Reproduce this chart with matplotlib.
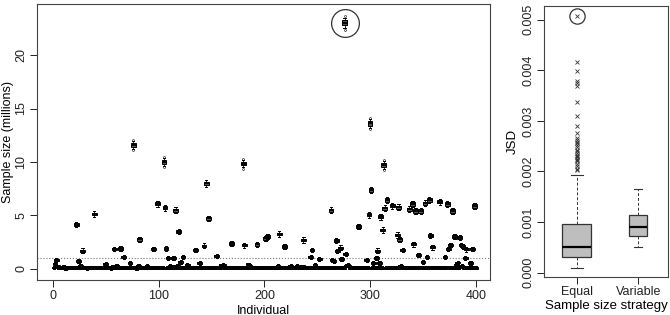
import matplotlib
matplotlib.use("Agg")
import matplotlib.pyplot as plt
import numpy as np

plt.rcParams['font.family'] = ['Liberation Sans', 'DejaVu Sans']

# ---------------- data ----------------
# baseline sample size (millions) for individuals 1..400
base_size = [
 0.12,0.15,0.12,0.25,0.14,0.10,0.11,0.12,0.10,0.18,0.10,0.09,0.12,0.10,0.11,0.15,0.10,0.12,0.10,0.13,
 0.10,0.11,0.12,0.20,0.14,0.30,0.12,0.10,0.11,0.10,0.12,0.09,0.10,0.13,0.10,0.11,0.12,0.10,0.14,0.10,
 0.11,0.10,0.12,0.10,0.10,0.13,0.11,0.10,0.12,0.15,0.10,0.12,0.11,0.10,0.09,0.12,0.25,0.10,0.11,0.30,
 0.20,0.12,0.10,0.22,0.13,0.10,0.12,0.11,0.10,0.14,0.12,0.10,0.11,0.13,0.10,0.12,0.10,0.11,0.09,0.12,
 0.28,0.14,0.10,0.12,0.10,0.11,0.13,0.10,0.30,0.10,0.12,0.11,0.10,0.12,0.10,0.11,0.13,0.10,0.12,0.10,
 0.11,0.10,0.12,0.10,0.11,0.10,0.12,0.11,0.10,0.13,0.30,0.10,0.12,0.11,0.25,0.10,0.12,0.30,0.12,0.10,
 0.11,0.12,0.10,0.13,0.10,0.11,0.10,0.12,0.11,0.10,0.12,0.10,0.11,0.13,0.10,0.12,0.10,0.11,0.10,0.12,
 0.10,0.11,0.12,0.10,0.13,0.10,0.12,0.11,0.10,0.12,0.11,0.10,0.12,0.10,0.11,0.13,0.10,0.12,0.35,0.25,
 0.11,0.10,0.12,0.10,0.11,0.13,0.10,0.12,0.10,0.11,0.10,0.12,0.11,0.10,0.12,0.10,0.11,0.13,0.10,0.12,
 0.10,0.11,0.10,0.12,0.35,0.30,0.12,0.10,0.11,0.10,0.12,0.11,0.10,0.12,0.10,0.11,0.13,0.10,0.12,0.10,
 0.11,0.10,0.12,0.10,0.11,0.13,0.10,0.12,0.10,0.11,0.10,0.12,0.30,0.35,0.12,0.10,0.11,0.13,0.10,0.12,
 0.10,0.11,0.10,0.12,0.30,0.12,0.10,0.11,0.13,0.10,0.30,0.12,0.10,0.11,0.10,0.25,0.11,0.10,0.12,0.10,
 0.11,0.10,0.12,0.10,0.11,0.13,0.10,0.12,0.10,0.11,0.10,0.12,0.11,0.10,0.12,0.10,0.11,0.13,0.10,0.12,
 0.10,0.11,0.10,0.12,0.11,0.10,0.12,0.10,0.11,0.13,0.10,0.12,0.10,0.11,0.10,0.12,0.11,0.30,0.35,0.25,
 0.11,0.10,0.12,0.10,0.11,0.13,0.10,0.12,0.10,0.11,0.10,0.12,0.11,0.10,0.12,0.10,0.11,0.13,0.10,0.12,
 0.10,0.11,0.10,0.12,0.11,0.10,0.12,0.10,0.11,0.13,0.10,0.12,0.10,0.11,0.10,0.12,0.11,0.10,0.12,0.10,
 0.11,0.10,0.12,0.10,0.11,0.13,0.10,0.12,0.10,0.11,0.10,0.12,0.11,0.10,0.12,0.10,0.11,0.13,0.10,0.12,
 0.10,0.11,0.10,0.12,0.11,0.10,0.12,0.10,0.11,0.13,0.10,0.12,0.10,0.11,0.10,0.12,0.11,0.10,0.12,0.10,
 0.11,0.10,0.12,0.10,0.11,0.13,0.10,0.12,0.10,0.11,0.10,0.12,0.11,0.10,0.12,0.10,0.11,0.13,0.10,0.12,
 0.10,0.11,0.10,0.12,0.11,0.10,0.30,0.10,0.11,0.13,0.10,0.12,0.10,0.11,0.10,0.12,0.11,0.10,0.12,0.10,
]

# individuals with visibly larger sample sizes (millions)
notable_ind = [2, 3, 22, 24, 28, 39, 50, 58, 64, 67, 73, 76, 82, 95, 99, 105, 106, 107, 109, 114,
               116, 119, 121, 123, 127, 135, 139, 143, 145, 147, 155, 161, 169, 180, 181, 185, 193,
               201, 203, 214, 219, 237, 244, 245, 248, 252, 263, 264, 266, 268, 269, 272, 273, 276,
               277, 279, 289, 297, 299, 300, 301, 303, 306, 307, 309, 310, 312, 313, 314, 316, 321,
               326, 327, 328, 329, 331, 337, 340, 341, 343, 346, 348, 350, 352, 354, 356, 357, 359,
               366, 371, 373, 374, 376, 378, 380, 382, 383, 385, 386, 388, 390, 391, 395, 397, 399]
notable_size = [0.45, 0.87, 4.15, 0.72, 1.71, 5.14, 0.47, 1.88, 1.90, 1.08, 0.59, 11.58, 2.78, 1.88, 6.10, 10.0, 5.73, 1.90, 1.00, 1.00,
                5.50, 3.50, 0.65, 1.15, 0.37, 1.78, 0.53, 2.17, 8.00, 4.72, 1.23, 0.37, 2.38, 9.85, 2.22, 0.42, 2.30,
                2.87, 3.02, 3.27, 2.09, 2.71, 1.09, 1.78, 0.37, 0.93, 5.51, 0.84, 0.78, 2.65, 1.68, 1.99, 0.93, 23.0,
                1.40, 0.37, 3.95, 0.84, 5.05, 13.6, 7.38, 0.53, 1.00, 1.71, 0.59, 4.89, 3.64, 9.72, 5.67, 6.45, 5.92,
                3.18, 5.77, 2.78, 0.28, 1.78, 5.60, 6.07, 2.31, 5.42, 1.31, 5.42, 0.68, 6.14, 1.09, 6.45, 3.11, 2.03,
                6.29, 1.15, 6.07, 1.87, 2.24, 5.42, 3.02, 0.37, 0.60, 2.93, 2.24, 2.09, 1.00, 1.84, 0.53, 1.87, 5.89]
highlight_ind = 276
threshold = 1.0

strategies = ["Equal", "Variable"]
equal_box = dict(whislo=0.000083, q1=0.00030, med=0.00051, q3=0.00096, whishi=0.00192)
variable_box = dict(whislo=0.00050, q1=0.00073, med=0.00091, q3=0.00113, whishi=0.00165)
equal_outliers = [0.00416, 0.00398, 0.00378, 0.00375, 0.00370, 0.00338, 0.00309, 0.00290, 0.00276,
                  0.00267, 0.00262, 0.00259, 0.00256, 0.00252, 0.00249, 0.00243, 0.00240, 0.00236,
                  0.00233, 0.00230, 0.00228, 0.00225, 0.00223, 0.00220, 0.00215, 0.00210, 0.00205,
                  0.00202, 0.00507]
equal_highlight = 0.00507

# ---------------- figure ----------------
fig = plt.figure(figsize=(6.7, 3.15), dpi=100)
ax = fig.add_axes([37/670, 35/315, 453/670, 276/315])
ax2 = fig.add_axes([544.3/670, 38.3/315, 123.4/670, 271/315])

sizes = list(base_size)
for i, v in zip(notable_ind, notable_size):
    sizes[i - 1] = v

stats = []
for v in sizes:
    h = 0.035 * np.sqrt(v) + 0.06
    fl = [v + 2.8 * h, v - 2.8 * h] if v > 9 else []
    stats.append(dict(med=v, q1=v - h, q3=v + h, whislo=v - 2.0 * h, whishi=v + 2.0 * h, fliers=fl))

ax.bxp(stats, positions=np.arange(1, len(sizes) + 1), widths=4.5, patch_artist=True,
       showfliers=True, manage_ticks=False,
       boxprops=dict(facecolor='#555555', edgecolor='black', linewidth=0.7),
       medianprops=dict(color='black', linewidth=1.3),
       whiskerprops=dict(color='black', linestyle='-', linewidth=0.6),
       capprops=dict(color='black', linewidth=0.7),
       flierprops=dict(marker='o', markersize=1.4, markerfacecolor='none',
                       markeredgecolor='black', markeredgewidth=0.4))
ax.axhline(threshold, color='#777777', linestyle=':', linewidth=0.8, zorder=0)
ax.plot(highlight_ind, sizes[highlight_ind - 1], marker='o', ms=20, mfc='none',
        mec='#333333', mew=0.9, ls='none')

ax.set_xlim(-15.1, 413.5)
ax.set_ylim(-1.03, 24.77)
ax.set_xticks([0, 100, 200, 300, 400])
ax.set_yticks([0, 5, 10, 15, 20])
ax.set_yticklabels(['0', '5', '10', '15', '20'], rotation=90, va='center')
ax.set_xlabel('Individual', fontsize=9, labelpad=2)
ax.set_ylabel('Sample size (millions)', fontsize=9, labelpad=1)

# right panel
st = []
for b, fl in ((equal_box, equal_outliers), (variable_box, [])):
    d = dict(b)
    d['fliers'] = fl
    st.append(d)
ax2.bxp(st, positions=[1, 2], widths=[0.47, 0.30], capwidths=[0.2, 0.14],
        patch_artist=True, showfliers=True, manage_ticks=False,
        boxprops=dict(facecolor='#bebebe', edgecolor='#333333', linewidth=0.9),
        medianprops=dict(color='black', linewidth=1.6),
        whiskerprops=dict(color='#333333', linestyle=(0, (3, 2)), linewidth=0.7),
        capprops=dict(color='#333333', linewidth=0.8),
        flierprops=dict(marker='x', markersize=3.5, markeredgecolor='#333333',
                        markeredgewidth=0.6))
ax2.plot(1, equal_highlight, marker='o', ms=11, mfc='none', mec='#333333', mew=0.9, ls='none')
ax2.set_xlim(0.474, 2.48)
ax2.set_ylim(-0.000083, 0.00528)
ax2.set_xticks([1, 2])
ax2.set_xticklabels(strategies)
ax2.set_yticks([0, 0.001, 0.002, 0.003, 0.004, 0.005])
ax2.set_yticklabels(['0.000', '0.001', '0.002', '0.003', '0.004', '0.005'], rotation=90, va='center')
ax2.set_xlabel('Sample size strategy', fontsize=9.5, labelpad=1)
ax2.set_ylabel('JSD', fontsize=9.5, labelpad=3)

for a in (ax, ax2):
    a.tick_params(direction='out', length=5, width=0.7, labelsize=9, colors='#222222', pad=2)
    for s in a.spines.values():
        s.set_color('#444444')
        s.set_linewidth(0.8)

fig.savefig('out.png', dpi=100)
